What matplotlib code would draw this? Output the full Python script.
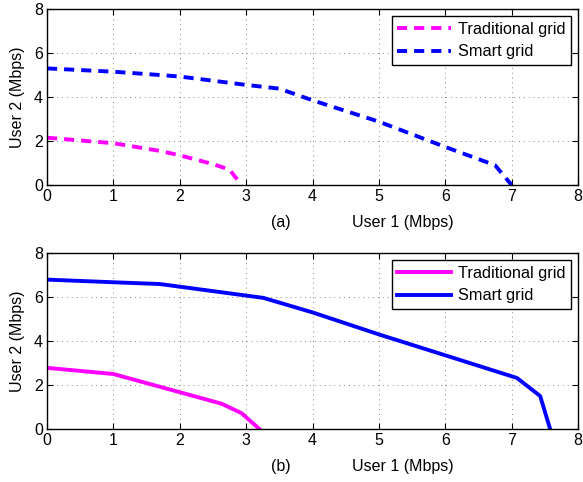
import matplotlib
matplotlib.use("Agg")
import matplotlib.pyplot as plt

plt.rcParams['font.family'] = ['Liberation Sans', 'DejaVu Sans']

# (a) data
a_trad_x = [0, 1, 1.7, 2.0, 2.5, 2.75, 2.93]
a_trad_y = [2.15, 1.9, 1.55, 1.35, 0.95, 0.7, 0]
a_smart_x = [0, 1, 1.7, 2, 3, 3.5, 4, 5, 6, 6.75, 7.0]
a_smart_y = [5.3, 5.15, 5.0, 4.93, 4.55, 4.38, 3.85, 2.88, 1.73, 0.9, 0]

# (b) data
b_trad_x = [0, 1, 2.63, 2.93, 3.2]
b_trad_y = [2.78, 2.5, 1.15, 0.72, 0]
b_smart_x = [0, 1, 1.7, 3.26, 4, 5, 6, 7.08, 7.43, 7.58]
b_smart_y = [6.79, 6.67, 6.59, 5.96, 5.3, 4.3, 3.35, 2.32, 1.5, 0]

xticks = [0, 1, 2, 3, 4, 5, 6, 7, 8]
yticks = [0, 2, 4, 6, 8]
labels = ["Traditional grid", "Smart grid"]
panels = ["(a)", "(b)"]

fig = plt.figure(figsize=(5.83, 4.82), dpi=100)
ax1 = fig.add_axes([47/583, (482-185)/482, 531/583, 176/482])
ax2 = fig.add_axes([47/583, (482-429)/482, 531/583, 176/482])

def style(ax, tag):
    ax.set_xlim(0, 8)
    ax.set_ylim(0, 8)
    ax.set_xticks(xticks)
    ax.set_yticks(yticks)
    ax.tick_params(direction='in', top=True, right=True, labelsize=11.5, length=4, width=0.8, pad=3)
    ax.grid(True, linestyle=(0, (1, 4)), color='#888888', linewidth=0.7)
    for s in ax.spines.values():
        s.set_linewidth(1.0)
    ax.set_ylabel("User 2 (Mbps)", fontsize=11.5, labelpad=6)
    ax.text(0.44, -0.215, tag, transform=ax.transAxes, ha='center', va='center', fontsize=11.5)
    ax.text(0.67, -0.215, "User 1 (Mbps)", transform=ax.transAxes, ha='center', va='center', fontsize=11.5)
    leg = ax.legend(loc='upper right', fontsize=11.7, fancybox=False, framealpha=1,
                    edgecolor='black', borderaxespad=0.45, handlelength=3.3,
                    borderpad=0.35, labelspacing=0.45, handletextpad=0.4)
    leg.get_frame().set_linewidth(1.0)

ax1.plot(a_trad_x, a_trad_y, color='#ff00ff', lw=2.8, linestyle=(0, (2.6, 1.8)), label=labels[0])
ax1.plot(a_smart_x, a_smart_y, color='#0000ff', lw=2.8, linestyle=(0, (2.6, 1.8)), label=labels[1])
style(ax1, panels[0])

ax2.plot(b_trad_x, b_trad_y, color='#ff00ff', lw=2.8, label=labels[0])
ax2.plot(b_smart_x, b_smart_y, color='#0000ff', lw=2.8, label=labels[1])
style(ax2, panels[1])

fig.savefig("out.png", dpi=100)
